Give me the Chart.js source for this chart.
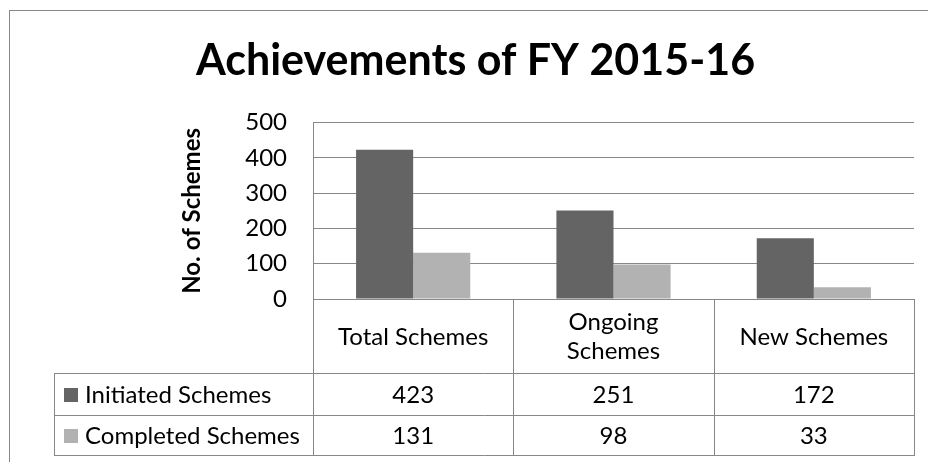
<!DOCTYPE html>
<html><head><meta charset="utf-8">
<script src="https://cdn.jsdelivr.net/npm/chart.js@4/dist/chart.umd.min.js"></script>
<style>html,body{margin:0;padding:0;background:#fff;overflow:hidden}</style>
</head><body>
<canvas id="c" width="928" height="462"></canvas>
<script>
const categories = [["Total Schemes"], ["Ongoing", "Schemes"], ["New Schemes"]];
const seriesNames = ["Initiated Schemes", "Completed Schemes"];
const initiatedValues = [423, 251, 172];
const completedValues = [131, 98, 33];
const yTickValues = [0, 100, 200, 300, 400, 500];
const chartTitle = "Achievements of FY 2015-16";
const yAxisTitle = "No. of Schemes";

const FONT = "Lato";
const LINE = "#878787";
const DARK = "#646464";
const LIGHT = "#b2b2b2";

const frameAndTable = {
  id: "frameAndTable",
  beforeDraw(chart) {
    const ctx = chart.ctx;
    ctx.save();
    ctx.fillStyle = "#fff";
    ctx.fillRect(0, 0, chart.width, chart.height);
    ctx.strokeStyle = LINE;
    ctx.lineWidth = 1;
    ctx.strokeRect(9.5, 10.5, 960, 500);
    ctx.restore();
  },
  afterDraw(chart) {
    const ctx = chart.ctx;
    const a = chart.chartArea;
    const xs = chart.scales.x;
    const n = chart.data.labels.length;
    const cw = (a.right - a.left) / n;
    const top = Math.round(a.bottom);
    const hdrB = top + 74, r1B = hdrB + 42, r2B = r1B + 40;
    const legL = 54;
    const px = v => Math.round(v) + 0.5;
    ctx.save();
    ctx.strokeStyle = LINE;
    ctx.lineWidth = 1;
    ctx.beginPath();
    for (let i = 0; i <= n; i++) {
      const x = px(a.left + i * cw);
      ctx.moveTo(x, top); ctx.lineTo(x, r2B);
    }
    ctx.moveTo(px(legL), hdrB); ctx.lineTo(px(legL), r2B);
    [hdrB, r1B, r2B].forEach(y => { ctx.moveTo(legL, px(y)); ctx.lineTo(px(a.right) + 0.5, px(y)); });
    ctx.stroke();

    ctx.fillStyle = "#000";
    ctx.font = "24px " + FONT;
    ctx.textAlign = "center";
    ctx.textBaseline = "middle";
    chart.data.labels.forEach((lab, i) => {
      const cx = xs.getPixelForValue(i);
      const lines = Array.isArray(lab) ? lab : [lab];
      const lh = 29;
      const cy = (top + hdrB) / 2 + 1;
      lines.forEach((t, j) => ctx.fillText(t, cx, cy + (j - (lines.length - 1) / 2) * lh));
    });
    const rows = [[hdrB, r1B], [r1B, r2B]];
    chart.data.datasets.forEach((ds, k) => {
      const cy = (rows[k][0] + rows[k][1]) / 2 + 1;
      ctx.fillStyle = ds.backgroundColor;
      ctx.fillRect(64, Math.round(cy - 7), 14, 14);
      ctx.fillStyle = "#000";
      ctx.textAlign = "left";
      ctx.fillText(ds.label, 85, cy);
      ctx.textAlign = "center";
      ds.data.forEach((v, i) => ctx.fillText(String(v), xs.getPixelForValue(i), cy));
    });
    ctx.restore();
  }
};

new Chart(document.getElementById("c"), {
  type: "bar",
  data: {
    labels: categories,
    datasets: [
      { label: seriesNames[0], data: initiatedValues, backgroundColor: DARK },
      { label: seriesNames[1], data: completedValues, backgroundColor: LIGHT }
    ]
  },
  options: {
    responsive: false,
    devicePixelRatio: 1,
    animation: false,
    layout: { padding: { left: 37, right: 14, top: 10, bottom: 163 } },
    datasets: { bar: { categoryPercentage: 0.57, barPercentage: 1 } },
    plugins: {
      legend: { display: false },
      tooltip: { enabled: false },
      title: {
        display: true,
        text: chartTitle,
        color: "#000",
        font: { family: FONT, size: 43, weight: "bold", lineHeight: 1.2 },
        padding: { top: 25.5, bottom: 35.6 }
      }
    },
    scales: {
      x: { display: false },
      y: {
        min: 0, max: 500,
        afterFit(scale) { scale.width = 276; },
        afterBuildTicks(scale) { scale.ticks = yTickValues.map(v => ({ value: v })); },
        ticks: { color: "#000", padding: 26, font: { family: FONT, size: 24 } },
        grid: { color: LINE, lineWidth: 1, drawTicks: false },
        border: { display: true, color: LINE, width: 1 },
        title: {
          display: true, text: yAxisTitle, color: "#000",
          font: { family: FONT, size: 24, weight: "bold", lineHeight: 1.2 },
          padding: { top: 141, bottom: 0 }
        }
      }
    }
  },
  plugins: [frameAndTable]
});
</script>
</body></html>
